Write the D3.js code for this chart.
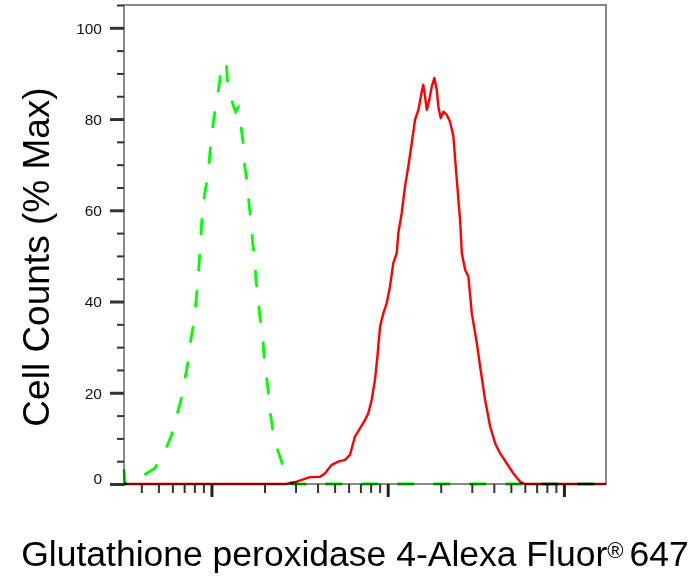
<!DOCTYPE html>
<html>
<head>
<meta charset="utf-8">
<script src="https://cdn.jsdelivr.net/npm/d3@7"></script>
<style>
  body { margin: 0; background: #fff; }
  svg { display: block; font-family: "Liberation Sans", Arial, sans-serif; }
  .curve { mix-blend-mode: multiply; fill: none; }
</style>
</head>
<body>
<div id="my_dataviz"></div>
<script>
// --- Data (fluorescence intensity vs % of max count) ---
const greenIntensity = [31.9, 32.4, 36.2, 40.0, 47.6, 54.3, 59.3, 63.7, 67.5, 70.5, 73.6, 76.0, 79.3, 81.4,
  83.3, 84.7, 86.3, 87.5, 88.9, 91.6, 95.7, 97.8, 100.0, 103.5, 107.8, 111.5, 114.0, 117.8, 121.7, 123.3,
  132.1, 137.4, 142.0, 144.8, 148.0, 152.6, 154.6, 160.1, 163.5, 168.7, 171.0, 176.2, 178.5, 184.0, 188.1,
  194.9, 198.3, 203.5, 209.7, 214.4, 222.1, 234.1, 253.3, 278.6, 285.9, 17325];
const greenCount = [3.2, 0, 0.8, 1.6, 3.4, 7.1, 10.7, 15.1, 18.8, 22.8, 26.8, 31.2, 35.2, 39.3,
  43.3, 47.3, 51.7, 55.7, 59.7, 63.7, 67.8, 72.1, 76.2, 80.5, 84.5, 88.5, 91.6, 92.6, 91.6, 88.2,
  83.3, 81.6, 82.5, 80.3, 77.6, 73.6, 69.6, 65.6, 61.2, 57.2, 53.1, 49.1, 45.1, 40.7, 36.7,
  32.7, 28.7, 24.6, 20.6, 16.2, 12.2, 8.2, 4.2, 0.5, 0, 0];

const redIntensity = [31.9, 264, 304, 332, 362, 413, 440, 481, 524, 572, 611, 652, 696, 743, 776, 811, 847,
  878, 905, 944, 987, 1031, 1076, 1125, 1149, 1201, 1254, 1309, 1369, 1429, 1493, 1560, 1593, 1629, 1666,
  1723, 1778, 1840, 1899, 1939, 2001, 2070, 2164, 2259, 2359, 2466, 2575, 2634, 2750, 2871, 3001, 3204,
  3346, 3572, 3814, 4071, 4346, 4744, 5171, 5645, 6028, 17325];
const redCount = [0, 0, 0.5, 1.0, 1.5, 1.6, 2.3, 4.2, 4.9, 5.3, 6.4, 10.4, 12.2, 14.0, 15.5, 18.4, 22.8,
  28.7, 34.5, 37.4, 39.6, 43.3, 48.4, 50.6, 55.0, 59.4, 65.2, 69.6, 74.7, 79.8, 82.0, 86.0, 87.5, 84.9, 82.0,
  84.2, 87.1, 89.0, 86.4, 82.7, 80.2, 81.6, 80.9, 79.4, 76.2, 66.7, 57.9, 50.6, 46.9, 45.5, 37.4, 30.9,
  25.7, 18.4, 12.6, 8.9, 6.7, 4.5, 2.3, 0.5, 0, 0];

const yMajorTicks = [0, 20, 40, 60, 80, 100];
const xMajorTicks = [100, 1000, 10000];
const xDomain = [31.9, 17325];
const yDomain = [0, 105];

// 1. Dimensions
const W = 697, H = 584;
const plot = { left: 124, right: 606, top: 5, bottom: 484 };

const svg = d3.select("#my_dataviz")
  .append("svg")
  .attr("width", W)
  .attr("height", H);

// 2. Scales
const x = d3.scaleLog().domain(xDomain).range([plot.left, plot.right]);
const y = d3.scaleLinear().domain(yDomain).range([plot.bottom, plot.top]);

// minor ticks
const yMinorTicks = d3.range(0, 106, 5).filter(v => !yMajorTicks.includes(v));
const xMinorTicks = [];
[10, 100, 1000, 10000].forEach(p => {
  for (let k = 2; k <= 9; k++) {
    const v = k * p;
    if (v >= xDomain[0] && v <= xDomain[1]) xMinorTicks.push(v);
  }
});

// 3. Frame
svg.append("rect")
  .attr("x", plot.left)
  .attr("y", plot.top)
  .attr("width", plot.right - plot.left)
  .attr("height", plot.bottom - plot.top)
  .attr("fill", "none")
  .attr("stroke", "#8a8a8a")
  .attr("stroke-width", 2);

// 4. Y axis ticks + labels
const yMinorAxis = svg.append("g")
  .attr("transform", `translate(${plot.left},0)`)
  .call(d3.axisLeft(y).tickValues(yMinorTicks).tickSize(7).tickFormat(""));
const yAxis = svg.append("g")
  .attr("transform", `translate(${plot.left},0)`)
  .call(d3.axisLeft(y).tickValues(yMajorTicks).tickSize(14).tickPadding(8));
[yMinorAxis, yAxis].forEach(g => g.select(".domain").remove());
yMinorAxis.selectAll("line").attr("stroke", "#333").attr("stroke-width", 2);
yAxis.selectAll("line").attr("stroke", "#333").attr("stroke-width", 3);
yAxis.selectAll("text")
  .attr("font-family", "Liberation Sans, Arial, sans-serif")
  .attr("font-size", "15.5px")
  .attr("fill", "#111")
  .attr("dy", d => d === 0 ? "-0.05em" : "0.35em");

// 5. X axis ticks (log, no labels)
const xMinorAxis = svg.append("g")
  .attr("transform", `translate(0,${plot.bottom})`)
  .call(d3.axisBottom(x).tickValues(xMinorTicks).tickSize(9).tickFormat(""));
const xAxis = svg.append("g")
  .attr("transform", `translate(0,${plot.bottom})`)
  .call(d3.axisBottom(x).tickValues(xMajorTicks).tickSize(13).tickFormat(""));
[xMinorAxis, xAxis].forEach(g => g.select(".domain").remove());
xMinorAxis.selectAll("line").attr("stroke", "#333").attr("stroke-width", 2);
xAxis.selectAll("line").attr("stroke", "#222").attr("stroke-width", 3);

// 6. Histogram curves
const line = d3.line()
  .x(d => x(d[0]))
  .y(d => y(d[1]));

const redData = d3.zip(redIntensity, redCount);
const greenData = d3.zip(greenIntensity, greenCount);

svg.append("path")
  .datum(redData)
  .attr("class", "curve")
  .attr("d", line)
  .attr("stroke", "#ff0000")
  .attr("stroke-width", 2.4)
  .attr("stroke-linejoin", "round");

svg.append("path")
  .datum(greenData)
  .attr("class", "curve")
  .attr("d", line)
  .attr("stroke", "#00ff00")
  .attr("stroke-width", 2.8)
  .attr("stroke-dasharray", "17,19");

// 7. Axis titles
svg.append("text")
  .attr("transform", "translate(49,257) rotate(-90)")
  .attr("text-anchor", "middle")
  .attr("font-size", "37px")
  .attr("fill", "#000")
  .text("Cell Counts (% Max)");

const xTitle = svg.append("text")
  .attr("x", 355)
  .attr("y", 566)
  .attr("text-anchor", "middle")
  .attr("font-size", "35.5px")
  .attr("fill", "#000")
  .style("white-space", "pre");
xTitle.append("tspan").text("Glutathione peroxidase 4-Alexa Fluor");
xTitle.append("tspan").attr("font-size", "22px").attr("dy", -8).text("\u00AE ");
xTitle.append("tspan").attr("dy", 8).text("647");
</script>
</body>
</html>
